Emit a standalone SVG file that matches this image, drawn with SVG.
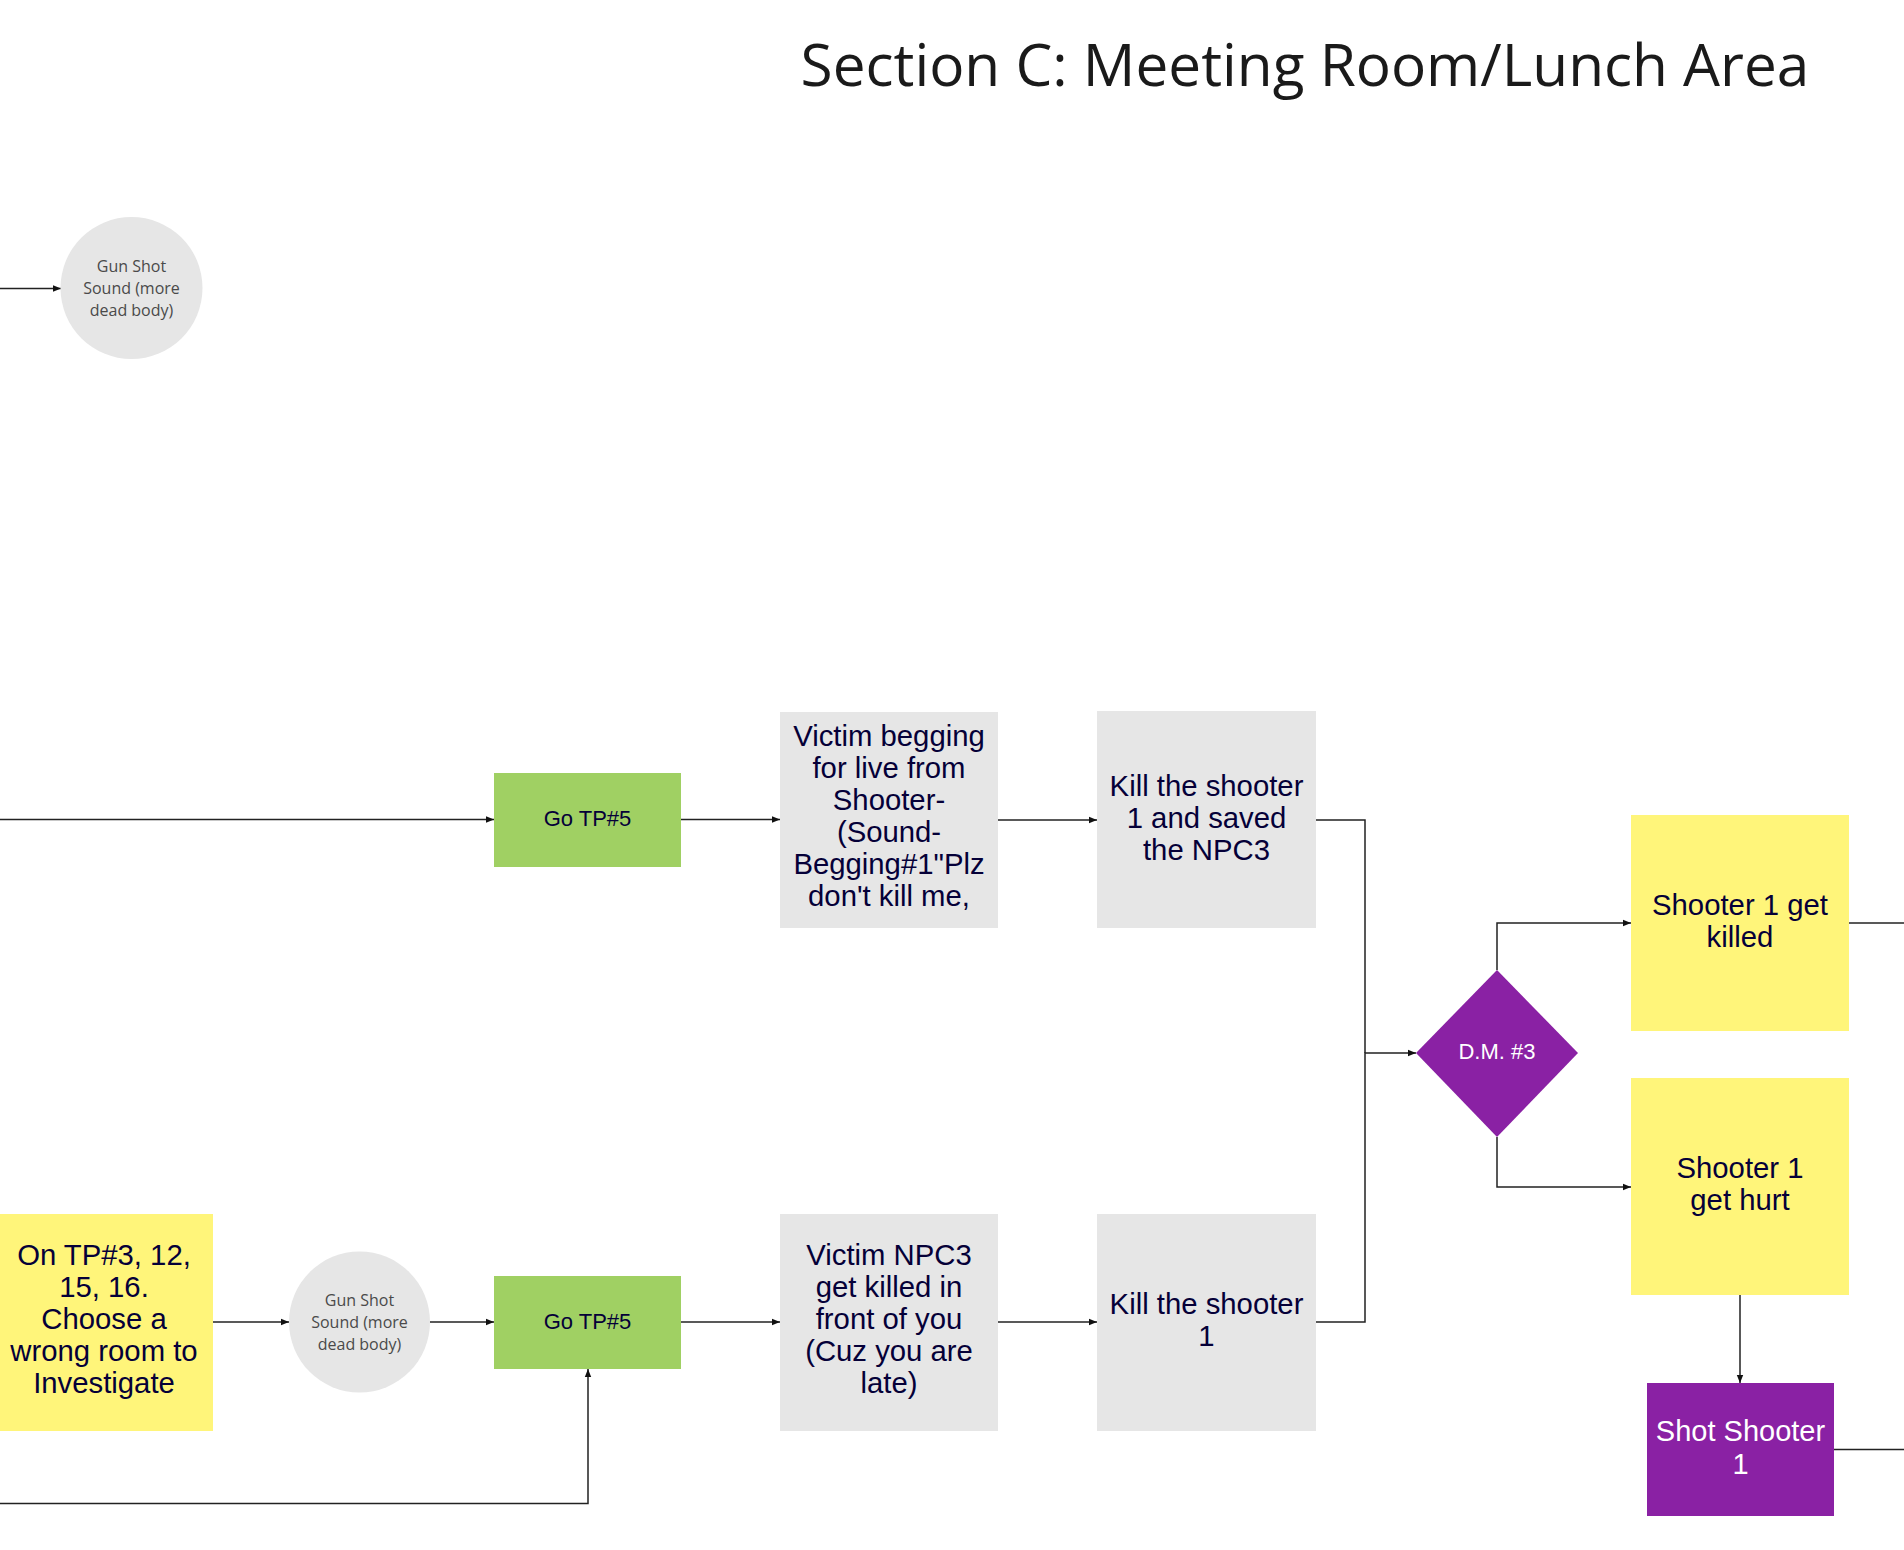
<svg xmlns="http://www.w3.org/2000/svg" width="1904" height="1550" viewBox="0 0 1904 1550">
<style>
.grey{fill:#e6e6e6}
.green{fill:#a0d063}
.yellow{fill:#fff57a}
.purple{fill:#8a21a4}
.t{font-family:"Liberation Sans",Arial,sans-serif;font-size:29.3px;fill:#050038;text-anchor:middle}
.tw{font-family:"Liberation Sans",Arial,sans-serif;fill:#ffffff;text-anchor:middle}
.ts{font-family:"Open Sans",sans-serif;font-size:16px;fill:#4a4a4a;text-anchor:middle}
.c{fill:none;stroke:#222;stroke-width:1.5}
</style>
<defs>
<marker id="ah" viewBox="0 0 10 10" refX="10" refY="5" markerWidth="8" markerHeight="8" markerUnits="userSpaceOnUse" orient="auto">
<path d="M0,1 L10,5 L0,9 z" fill="#111"/>
</marker>
</defs>
<rect width="1904" height="1550" fill="#ffffff"/>
<text x="1305" y="86" font-family="'Open Sans',sans-serif" font-size="58.5" fill="#1a1a1a" text-anchor="middle">Section C: Meeting Room/Lunch Area</text>

<g id="connectors">
<path class="c" d="M0,288.5 H61" marker-end="url(#ah)"/>
<path class="c" d="M0,819.5 H494" marker-end="url(#ah)"/>
<path class="c" d="M681,819.5 H780" marker-end="url(#ah)"/>
<path class="c" d="M998,820 H1097" marker-end="url(#ah)"/>
<path class="c" d="M1316,820 H1365 V1053"/>
<path class="c" d="M1316,1322 H1365 V1053 H1416" marker-end="url(#ah)"/>
<path class="c" d="M1497,970 V923 H1631" marker-end="url(#ah)"/>
<path class="c" d="M1497,1137 V1187 H1631" marker-end="url(#ah)"/>
<path class="c" d="M1849,923 H1904"/>
<path class="c" d="M1740,1295 V1383" marker-end="url(#ah)"/>
<path class="c" d="M1834,1449.5 H1904"/>
<path class="c" d="M213,1322 H289" marker-end="url(#ah)"/>
<path class="c" d="M430,1322 H494" marker-end="url(#ah)"/>
<path class="c" d="M681,1322 H780" marker-end="url(#ah)"/>
<path class="c" d="M998,1322 H1097" marker-end="url(#ah)"/>
<path class="c" d="M0,1503.5 H588 V1369" marker-end="url(#ah)"/>
</g>

<g id="gunshot1">
<circle class="grey" cx="131.5" cy="288" r="71"/>
<text class="ts"><tspan x="131.5" y="272">Gun Shot</tspan><tspan x="131.5" y="294">Sound (more</tspan><tspan x="131.5" y="316">dead body)</tspan></text>
</g>

<g id="gotp5-upper">
<rect class="green" x="494" y="773" width="187" height="94"/>
<text class="t" x="587.5" y="826" style="font-size:22px">Go TP#5</text>
</g>

<g id="victim-begging">
<rect class="grey" x="780" y="712" width="218" height="216"/>
<text class="t"><tspan x="889" y="746">Victim begging</tspan><tspan x="889" y="778">for live from</tspan><tspan x="889" y="810">Shooter-</tspan><tspan x="889" y="842">(Sound-</tspan><tspan x="889" y="874">Begging#1"Plz</tspan><tspan x="889" y="906">don't kill me,</tspan></text>
</g>

<g id="kill-saved">
<rect class="grey" x="1097" y="711" width="219" height="217"/>
<text class="t"><tspan x="1206.5" y="796">Kill the shooter</tspan><tspan x="1206.5" y="828">1 and saved</tspan><tspan x="1206.5" y="860">the NPC3</tspan></text>
</g>

<g id="dm3">
<polygon class="purple" points="1497,970 1578,1053 1497,1137 1416,1053"/>
<text class="tw" x="1497" y="1059" style="font-size:22px">D.M. #3</text>
</g>

<g id="shooter-killed">
<rect class="yellow" x="1631" y="815" width="218" height="216"/>
<text class="t"><tspan x="1740" y="915">Shooter 1 get</tspan><tspan x="1740" y="947">killed</tspan></text>
</g>

<g id="shooter-hurt">
<rect class="yellow" x="1631" y="1078" width="218" height="217"/>
<text class="t"><tspan x="1740" y="1178">Shooter 1</tspan><tspan x="1740" y="1210">get hurt</tspan></text>
</g>

<g id="shot-shooter">
<rect class="purple" x="1647" y="1383" width="187" height="133"/>
<text class="tw" style="font-size:29px"><tspan x="1740.5" y="1441">Shot Shooter</tspan><tspan x="1740.5" y="1474">1</tspan></text>
</g>

<g id="wrong-room">
<rect class="yellow" x="-5" y="1214" width="218" height="217"/>
<text class="t"><tspan x="104" y="1265">On TP#3, 12,</tspan><tspan x="104" y="1297">15, 16.</tspan><tspan x="104" y="1329">Choose a</tspan><tspan x="104" y="1361">wrong room to</tspan><tspan x="104" y="1393">Investigate</tspan></text>
</g>

<g id="gunshot2">
<circle class="grey" cx="359.5" cy="1322" r="70.5"/>
<text class="ts"><tspan x="359.5" y="1306">Gun Shot</tspan><tspan x="359.5" y="1328">Sound (more</tspan><tspan x="359.5" y="1350">dead body)</tspan></text>
</g>

<g id="gotp5-lower">
<rect class="green" x="494" y="1276" width="187" height="93"/>
<text class="t" x="587.5" y="1329" style="font-size:22px">Go TP#5</text>
</g>

<g id="victim-killed">
<rect class="grey" x="780" y="1214" width="218" height="217"/>
<text class="t"><tspan x="889" y="1265">Victim NPC3</tspan><tspan x="889" y="1297">get killed in</tspan><tspan x="889" y="1329">front of you</tspan><tspan x="889" y="1361">(Cuz you are</tspan><tspan x="889" y="1393">late)</tspan></text>
</g>

<g id="kill-shooter">
<rect class="grey" x="1097" y="1214" width="219" height="217"/>
<text class="t"><tspan x="1206.5" y="1314">Kill the shooter</tspan><tspan x="1206.5" y="1346">1</tspan></text>
</g>
</svg>
